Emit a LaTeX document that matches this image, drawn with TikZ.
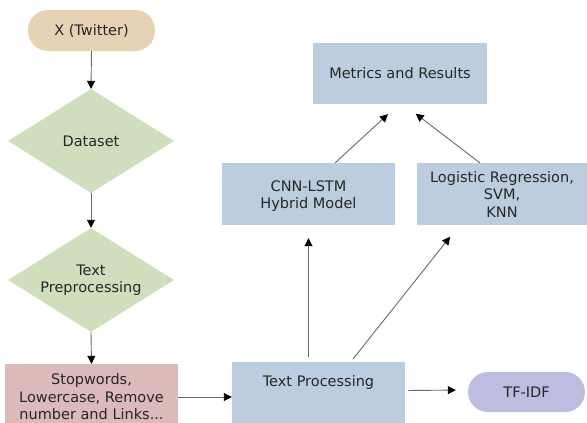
\documentclass[tikz,border=0pt]{standalone}
\usepackage{fontspec}
\setmainfont{DejaVu Sans}
\usetikzlibrary{shapes.geometric,arrows.meta}
\definecolor{beige}{RGB}{230,211,182}
\definecolor{lgreen}{RGB}{207,223,190}
\definecolor{pinkbox}{RGB}{221,186,186}
\definecolor{bluebox}{RGB}{188,205,223}
\definecolor{lav}{RGB}{190,188,224}
\definecolor{lineg}{RGB}{105,105,105}
\tikzset{
  base/.style={font=\fontsize{14.5}{17.5}\selectfont, text=black!85, align=center, inner sep=0pt},
  term/.style={base, rounded corners=20pt, minimum width=#1},
  dia/.style={base, diamond, aspect=1.6, fill=lgreen, minimum width=166pt, minimum height=104pt},
  box/.style={base, rectangle},
  arr/.style={draw=lineg, line width=0.9pt, -{Triangle[width=8pt,length=8pt,color=black]}}
}
\begin{document}
\begin{tikzpicture}[x=1pt,y=-1pt]
\useasboundingbox (0,0) rectangle (587,423);
\node[term=127pt, fill=beige, minimum height=41pt] (tw) at (91.5,30.5) {X (Twitter)};
\node[dia] (ds) at (91,141) {Dataset};
\node[dia] (tp) at (91,280) {Text\\Preprocessing};
\node[box, fill=pinkbox, minimum width=173pt, minimum height=59pt] (sw) at (91.5,393.5) {};
\node[base] (swt) at (91.5,397) {Stopwords,\\Lowercase, Remove\\number and Links...};
\node[box, fill=bluebox, minimum width=173pt, minimum height=61pt] (proc) at (318.5,392.5) {};
\node[base] (proct) at (318.5,382) {Text Processing};
\node[term=117pt, fill=lav, minimum height=40pt] (tf) at (526.5,392) {TF-IDF};
\node[box, fill=bluebox, minimum width=173pt, minimum height=62pt] (cnn) at (308.5,194) {};
\node[base] (cnnt) at (308.5,196) {CNN-LSTM\\Hybrid Model};
\node[box, fill=bluebox, minimum width=170pt, minimum height=62pt] (lr) at (502,194) {Logistic Regression,\\SVM,\\KNN};
\node[box, fill=bluebox, minimum width=174pt, minimum height=61pt] (met) at (400,73.5) {Metrics and Results};
\coordinate (pa) at (350.6,362);
\coordinate (pb) at (459.5,225);
\coordinate (ca) at (335,163);
\coordinate (cb) at (399,104);
\coordinate (la) at (480,163);
\coordinate (lb) at (403,104);
\draw[arr] (tw.south) -- (ds.north);
\draw[arr] (ds.south) -- (tp.north);
\draw[arr] (tp.south) -- (sw.north);
\draw[arr] ([yshift=-3.5pt]sw.east) -- ([yshift=-3.5pt]sw.east -| proc.west);
\draw[arr, shorten <=3pt, shorten >=12pt] ([yshift=2pt]proc.east) -- ([yshift=2pt]tf.west);
\draw[arr, shorten <=5pt, shorten >=13pt] (cnn.south |- proc.north) -- (cnn.south);
\draw[arr, shorten <=4pt, shorten >=15pt] (pa) -- (pb);
\draw[arr, shorten >=15pt] (ca) -- (cb);
\draw[arr, shorten >=16pt] (la) -- (lb);
\end{tikzpicture}
\end{document}
